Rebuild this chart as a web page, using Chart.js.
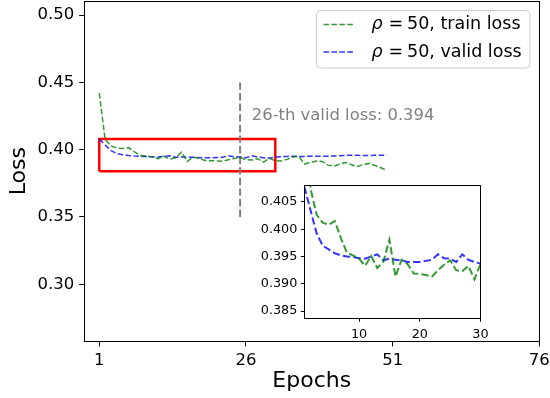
<!DOCTYPE html>
<html>
<head>
<meta charset="utf-8">
<script src="https://cdn.jsdelivr.net/npm/chart.js@4.4.0/dist/chart.umd.min.js"></script>
<style>
html, body { margin: 0; padding: 0; background: #fff; }
#wrap  { position: relative; width: 550px; height: 398px; }
#main  { position: absolute; left: 0; top: 0; }
#inset { position: absolute; left: 250px; top: 175px; }
</style>
</head>
<body>
<div id="wrap">
    <canvas id="main" width="550" height="398"></canvas>
    <canvas id="inset" width="240" height="170"></canvas>
</div>
<script>
// ---- data ----
const epochs = [1, 2, 3, 4, 5, 6, 7, 8, 9, 10, 11, 12, 13, 14, 15, 16, 17, 18, 19, 20,
                21, 22, 23, 24, 25, 26, 27, 28, 29, 30, 31, 32, 33, 34, 35, 36, 37, 38, 39, 40,
                41, 42, 43, 44, 45, 46, 47, 48, 49, 50];
const trainLoss = [0.4420, 0.4075, 0.4027, 0.4012, 0.4008, 0.4015, 0.3984, 0.3957, 0.3952, 0.3946,
                   0.3933, 0.3951, 0.3929, 0.3940, 0.3981, 0.3913, 0.3944, 0.3936, 0.3919, 0.3918,
                   0.3916, 0.3913, 0.3925, 0.3935, 0.3943, 0.3925, 0.3923, 0.3933, 0.3908, 0.3936,
                   0.3918, 0.3915, 0.3928, 0.3945, 0.3950, 0.3893, 0.3905, 0.3915, 0.3912, 0.3885,
                   0.3878, 0.3892, 0.3905, 0.3888, 0.3875, 0.3890, 0.3898, 0.3882, 0.3866, 0.3846];
const validLoss = [0.4078, 0.4035, 0.3993, 0.3970, 0.3963, 0.3956, 0.3952, 0.3950, 0.3949, 0.3947,
                   0.3946, 0.3950, 0.3954, 0.3943, 0.3946, 0.3944, 0.3943, 0.3940, 0.3940, 0.3940,
                   0.3942, 0.3944, 0.3954, 0.3947, 0.3946, 0.3940, 0.3954, 0.3944, 0.3940, 0.3937,
                   0.3945, 0.3948, 0.3950, 0.3951, 0.3950, 0.3950, 0.3951, 0.3951, 0.3950, 0.3951,
                   0.3953, 0.3955, 0.3958, 0.3958, 0.3958, 0.3957, 0.3957, 0.3958, 0.3958, 0.3958];
const seriesLabels = ['train loss', 'valid loss'];
const rhoValue     = 50;

const mainXTicks  = [1, 26, 51, 76];
const mainYTicks  = [0.30, 0.35, 0.40, 0.45, 0.50];
const insetXTicks = [10, 20, 30];
const insetYTicks = [0.385, 0.390, 0.395, 0.400, 0.405];

const markerX     = [25, 25];
const markerY     = [0.35, 0.45];
const zoomBoxX    = [1, 31, 31, 1, 1];
const zoomBoxY    = [0.384, 0.384, 0.408, 0.408, 0.384];
const noteText    = '26-th valid loss: 0.394';
const notePos     = [27, 0.425];

// ---- styles ----
const FONT  = 'DejaVu Sans';
const GREEN = 'rgba(0,128,0,0.8)';
const BLUE  = 'rgba(0,0,255,0.8)';
Chart.defaults.font.family = FONT;
Chart.defaults.color = '#000';

function pts(xs, ys) {
    return xs.map(function (x, i) { return { x: x, y: ys[i] }; });
}

function lineSet(data, color, width, dash) {
    return {
        data: data, borderColor: color, borderWidth: width, borderDash: dash,
        pointRadius: 0, tension: 0, fill: false
    };
}

// fixed axis box sizes, no automatic label padding
function fixWidth(w) {
    return function (s) { s.width = w; s.paddingTop = 0; s.paddingBottom = 0; };
}
function fixHeight(h) {
    return function (s) { s.height = h; s.paddingLeft = 0; s.paddingRight = 0; };
}
function fixedTicks(list) {
    return function (s) { s.ticks = list.map(function (v) { return { value: v }; }); };
}

const framePlugin = {
    id: 'frame',
    beforeDraw(c) {
        const a = c.chartArea, ctx = c.ctx;
        ctx.save();
        ctx.fillStyle = '#fff';
        ctx.fillRect(a.left, a.top, a.right - a.left, a.bottom - a.top);
        ctx.restore();
    },
    afterDatasetsDraw(c) {
        const a = c.chartArea, ctx = c.ctx;
        ctx.save();
        ctx.strokeStyle = '#000';
        ctx.lineWidth = 1;
        ctx.strokeRect(Math.round(a.left) + 0.5, Math.round(a.top) + 0.5,
                       Math.round(a.right - a.left), Math.round(a.bottom - a.top));
        ctx.restore();
    }
};

const notePlugin = {
    id: 'note',
    afterDatasetsDraw(c) {
        const ctx = c.ctx;
        const x = c.scales.x.getPixelForValue(notePos[0]);
        const y = c.scales.y.getPixelForValue(notePos[1]);
        ctx.save();
        ctx.font = '16.4px ' + FONT;
        ctx.fillStyle = '#808080';
        ctx.textAlign = 'left';
        ctx.textBaseline = 'middle';
        ctx.fillText(noteText, x, y);
        ctx.restore();
    }
};

const legendPlugin = {
    id: 'legendBox',
    afterDraw(c) {
        const ctx = c.ctx;
        const bx = 316.5, by = 10.5, bw = 213.5, bh = 57.5, r = 4;
        ctx.save();
        ctx.beginPath();
        ctx.roundRect(bx, by, bw, bh, r);
        ctx.fillStyle = 'rgba(255,255,255,0.8)';
        ctx.fill();
        ctx.strokeStyle = '#cccccc';
        ctx.lineWidth = 1;
        ctx.stroke();
        const rows = [[GREEN, 24.5], [BLUE, 52]];
        rows.forEach(function (row, i) {
            ctx.beginPath();
            ctx.setLineDash([5.55, 2.4]);
            ctx.strokeStyle = row[0];
            ctx.lineWidth = 1.5;
            ctx.moveTo(323.5, row[1]);
            ctx.lineTo(353.5, row[1]);
            ctx.stroke();
            ctx.setLineDash([]);
            ctx.fillStyle = '#000';
            ctx.textBaseline = 'middle';
            ctx.textAlign = 'left';
            ctx.font = 'italic 17.5px ' + FONT;
            ctx.fillText('\u03c1', 371.5, row[1]);
            ctx.font = '17.5px ' + FONT;
            ctx.fillText('=', 388.5, row[1]);
            ctx.fillText(rhoValue + ', ' + seriesLabels[i], 407, row[1]);
        });
        ctx.restore();
    }
};

// ---- main chart ----
new Chart(document.getElementById('main'), {
    type: 'line',
    data: {
        datasets: [
            lineSet(pts(epochs, trainLoss), GREEN, 1.5, [5.55, 2.4]),
            lineSet(pts(epochs, validLoss), BLUE, 1.5, [5.55, 2.4]),
            lineSet(pts(markerX, markerY), '#808080', 2, [7.4, 3.2]),
            Object.assign(lineSet(pts(zoomBoxX, zoomBoxY), '#ff0000', 2.5, []), { borderJoinStyle: 'miter' })
        ]
    },
    options: {
        responsive: false, animation: false,
        layout: { padding: { left: 0, right: 10.7, top: 1, bottom: 0 } },
        plugins: { legend: { display: false }, tooltip: { enabled: false } },
        scales: {
            x: {
                type: 'linear', min: -1.57, max: 76,
                afterBuildTicks: fixedTicks(mainXTicks),
                afterFit: fixHeight(56.6),
                grid: { drawOnChartArea: false, color: '#000', tickLength: 5 },
                border: { display: false },
                ticks: { font: { size: 16.5 }, padding: 4, maxRotation: 0, autoSkip: false },
                title: { display: true, text: 'Epochs', font: { size: 22 }, padding: { top: 0, bottom: 4 } }
            },
            y: {
                type: 'linear', min: 0.2576, max: 0.5104,
                afterBuildTicks: fixedTicks(mainYTicks),
                afterFit: fixWidth(84.2),
                grid: { drawOnChartArea: false, color: '#000', tickLength: 5 },
                border: { display: false },
                ticks: { font: { size: 16.5 }, padding: 5, autoSkip: false,
                         callback: function (v) { return v.toFixed(2); } },
                title: { display: true, text: 'Loss', font: { size: 22 }, padding: { top: 6, bottom: 0 } }
            }
        }
    },
    plugins: [framePlugin, notePlugin, legendPlugin]
});

// ---- inset (first 30 epochs) ----
new Chart(document.getElementById('inset'), {
    type: 'line',
    data: {
        datasets: [
            lineSet(pts(epochs, trainLoss), GREEN, 2, [7.4, 3.2]),
            lineSet(pts(epochs, validLoss), BLUE, 2, [7.4, 3.2])
        ]
    },
    options: {
        responsive: false, animation: false,
        layout: { padding: { left: 0, right: 9.5, top: 10, bottom: 0 } },
        plugins: { legend: { display: false }, tooltip: { enabled: false } },
        scales: {
            x: {
                type: 'linear', min: 1, max: 30,
                afterBuildTicks: fixedTicks(insetXTicks),
                afterFit: fixHeight(26.8),
                grid: { drawOnChartArea: false, color: '#000', tickLength: 3.5 },
                border: { display: false },
                ticks: { font: { size: 12.8 }, padding: 5, maxRotation: 0, autoSkip: false }
            },
            y: {
                type: 'linear', min: 0.3837, max: 0.4081,
                afterBuildTicks: fixedTicks(insetYTicks),
                afterFit: fixWidth(54.4),
                grid: { drawOnChartArea: false, color: '#000', tickLength: 3.5 },
                border: { display: false },
                ticks: { font: { size: 12.8 }, padding: 3.5, autoSkip: false,
                         callback: function (v) { return v.toFixed(3); } }
            }
        }
    },
    plugins: [framePlugin]
});
</script>
</body>
</html>
